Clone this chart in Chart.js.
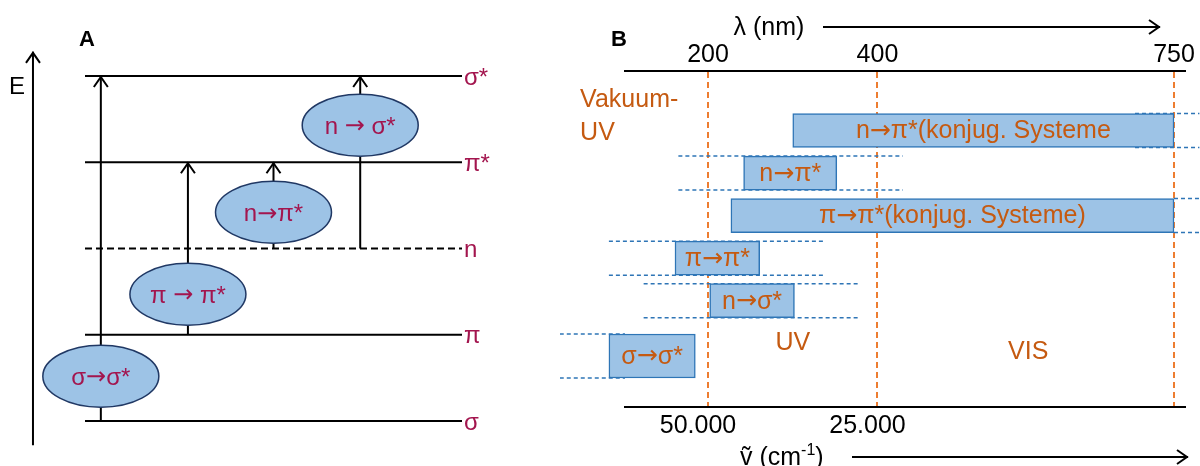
<!DOCTYPE html>
<html>
<head>
<meta charset="utf-8">
<script src="https://cdn.jsdelivr.net/npm/chart.js@4"></script>
<style>
  body { margin: 0; background: #fff; }
  #wrap { position: relative; width: 1200px; height: 466px; }
  canvas { position: absolute; top: 0; }
  #levels { left: 0; }
  #bands { left: 560px; }
</style>
</head>
<body>
<div id="wrap">
  <canvas id="levels" width="560" height="466"></canvas>
  <canvas id="bands" width="640" height="466"></canvas>
</div>
<script>
const FONT = '"Liberation Sans", Arial, sans-serif';
const ARROW_FONT = '"DejaVu Sans", sans-serif';
const RED = '#a3154e';
const ORANGE = '#c55a11';

// --- A: orbital energy levels ---
const levelNames = ['σ', 'π', 'n', 'π*', 'σ*'];
const levelEnergy = [0, 1, 2, 3, 4];

// transitions (x = % of level line length)
const transLabels = ['σ→σ*', 'π → π*', 'n→π*', 'n → σ*'];
const transFrom = [0, 1, 2, 2];
const transTo = [4, 3, 3, 4];
const transX = [4.2, 27.3, 50, 73];
const bubbleE = [0.52, 1.47, 2.42, 3.43];

// --- B: absorption ranges in nm ---
const lambdaTicks = [200, 400, 750];
const waveTicks = [200, 400];
const bandLabels = ['n→π*(konjug. Systeme', 'n→π*', 'π→π*(konjug. Systeme)', 'π→π*', 'n→σ*', 'σ→σ*'];
const bandStart = [300, 242, 227, 161, 202, 83];
const bandEnd = [750, 352, 750, 261, 302, 185];
const bandRow = [1, 2, 3, 4, 5, 6.3];
const spreadStart = [704, 165, 750, 83, 124, 25];
const spreadEnd = [780, 430, 780, 338, 379, 102];
const regionText = ['Vakuum-|UV', 'UV', 'VIS'];
const regionLambda = [49, 300, 578];
const regionRow = [0.28, 6.0, 6.2];

Chart.defaults.font.family = FONT;

function chevron(ctx, x, y, dir) {
  ctx.beginPath();
  if (dir === 'up') {
    ctx.moveTo(x - 7, y + 11); ctx.lineTo(x, y + 1); ctx.lineTo(x + 7, y + 11);
  } else {
    ctx.moveTo(x - 11, y - 7); ctx.lineTo(x - 1, y); ctx.lineTo(x - 11, y + 7);
  }
  ctx.stroke();
}

// text centred at cx, the arrow glyph taken from DejaVu (wider arrow)
function arrowText(ctx, text, cx, cy, size) {
  const parts = text.split('→');
  const pieces = [];
  parts.forEach((p, k) => {
    if (k > 0) pieces.push({t: '→', f: size + 'px ' + ARROW_FONT});
    if (p) pieces.push({t: p, f: size + 'px ' + FONT});
  });
  let w = 0;
  pieces.forEach(p => { ctx.font = p.f; p.w = ctx.measureText(p.t).width; w += p.w; });
  let x = cx - w / 2;
  ctx.textAlign = 'left';
  pieces.forEach(p => { ctx.font = p.f; ctx.fillText(p.t, x, cy); x += p.w; });
}

const seg = (x0, y0, x1, y1, extra) => Object.assign({
  data: [{x: x0, y: y0}, {x: x1, y: y1}],
  showLine: true, borderColor: '#000', borderWidth: 2,
  pointRadius: 0, clip: false
}, extra);

const levelSets = levelNames.map((n, i) =>
  seg(0, levelEnergy[i], 100, levelEnergy[i], {borderDash: n === 'n' ? [7, 4] : []}));
const arrowSets = transLabels.map((t, i) =>
  seg(transX[i], levelEnergy[transFrom[i]], transX[i], levelEnergy[transTo[i]], {arrow: true}));
const eAxis = seg(-13.8, -0.28, -13.8, 4.28, {arrow: true});

const levelDecor = {
  id: 'levelDecor',
  afterDatasetsDraw(chart) {
    const {ctx, chartArea, scales: {x, y}} = chart;
    ctx.save();
    ctx.strokeStyle = '#000';
    ctx.lineWidth = 2;
    chart.data.datasets.forEach((ds, i) => {
      if (!ds.arrow) return;
      const pts = chart.getDatasetMeta(i).data;
      const tip = pts[pts.length - 1];
      chevron(ctx, tip.x, tip.y, 'up');
    });

    ctx.textBaseline = 'middle';
    transLabels.forEach((t, i) => {
      const cx = x.getPixelForValue(transX[i]);
      const cy = y.getPixelForValue(bubbleE[i]);
      ctx.beginPath();
      ctx.ellipse(cx, cy, 58, 31, 0, 0, Math.PI * 2);
      ctx.fillStyle = '#9dc3e6';
      ctx.fill();
      ctx.strokeStyle = '#203864';
      ctx.lineWidth = 1.5;
      ctx.stroke();
      ctx.fillStyle = RED;
      arrowText(ctx, t, cx, cy + 2, 24);
    });

    ctx.textAlign = 'left';
    ctx.font = '24px ' + FONT;
    levelNames.forEach((n, i) => {
      ctx.fillText(n, chartArea.right + 2, y.getPixelForValue(levelEnergy[i]) + 2);
    });

    ctx.fillStyle = '#000';
    ctx.fillText('E', 9, 87);
    ctx.font = 'bold 22px ' + FONT;
    ctx.fillText('A', 79, 40);
    ctx.restore();
  }
};

new Chart(document.getElementById('levels'), {
  type: 'scatter',
  data: {datasets: [...levelSets, ...arrowSets, eAxis]},
  options: {
    responsive: false,
    animation: false,
    layout: {padding: {left: 85, right: 98, top: 76, bottom: 45}},
    scales: {
      x: {type: 'linear', min: 0, max: 100, display: false},
      y: {type: 'linear', min: 0, max: 4, display: false}
    },
    plugins: {legend: {display: false}, tooltip: {enabled: false}}
  },
  plugins: [levelDecor]
});

const deFormat = v => String(Math.round(v)).replace(/\B(?=(\d{3})+(?!\d))/g, '.');

const bandDecor = {
  id: 'bandDecor',
  beforeDatasetsDraw(chart) {
    const {ctx, scales: {x}} = chart;
    ctx.save();
    ctx.strokeStyle = '#2e75b6';
    ctx.lineWidth = 1.5;
    ctx.setLineDash([4, 3]);
    chart.data.datasets.forEach((ds, i) => {
      const el = chart.getDatasetMeta(i).data[0];
      const {y, height} = el.getProps(['y', 'height'], true);
      const x0 = x.getPixelForValue(spreadStart[i]);
      const x1 = x.getPixelForValue(spreadEnd[i]);
      [y - height / 2, y + height / 2].forEach(yy => {
        ctx.beginPath();
        ctx.moveTo(x0, yy);
        ctx.lineTo(x1, yy);
        ctx.stroke();
      });
    });
    ctx.restore();
  },
  afterDatasetsDraw(chart) {
    const {ctx, scales: {x, y}} = chart;
    ctx.save();
    ctx.fillStyle = ORANGE;
    ctx.textBaseline = 'middle';
    chart.data.datasets.forEach((ds, i) => {
      const el = chart.getDatasetMeta(i).data[0];
      const {x: xe, base, y: ye} = el.getProps(['x', 'base', 'y'], true);
      arrowText(ctx, bandLabels[i], (xe + base) / 2, ye + 1, 25);
    });

    ctx.font = '25px ' + FONT;
    regionText.forEach((t, i) => {
      const px = x.getPixelForValue(regionLambda[i]);
      const py = y.getPixelForValue(regionRow[i]);
      const lines = t.split('|');
      ctx.textAlign = lines.length > 1 ? 'left' : 'center';
      lines.forEach((l, k) => ctx.fillText(l, px, py + k * 33));
    });

    // axis titles with arrows
    ctx.fillStyle = '#000';
    ctx.strokeStyle = '#000';
    ctx.lineWidth = 2;
    ctx.textAlign = 'center';
    ctx.fillText('λ (nm)', 209, 28);
    ctx.beginPath(); ctx.moveTo(263, 27); ctx.lineTo(600, 27); ctx.stroke();
    chevron(ctx, 600, 27, 'right');

    ctx.textAlign = 'left';
    let tx = 180;
    ctx.fillText('ṽ (cm', tx, 458);
    tx += ctx.measureText('ṽ (cm').width;
    ctx.font = '16px ' + FONT;
    ctx.fillText('-1', tx, 451);
    tx += ctx.measureText('-1').width;
    ctx.font = '25px ' + FONT;
    ctx.fillText(')', tx, 458);
    ctx.beginPath(); ctx.moveTo(292, 457); ctx.lineTo(628, 457); ctx.stroke();
    chevron(ctx, 628, 457, 'right');

    ctx.font = 'bold 22px ' + FONT;
    ctx.fillText('B', 51, 40);
    ctx.restore();
  }
};

const bandSets = bandLabels.map((b, i) => ({
  data: [{x: [bandStart[i], bandEnd[i]], y: bandRow[i]}],
  backgroundColor: '#9dc3e6',
  borderColor: '#2e75b6',
  borderWidth: 1.5,
  borderSkipped: false,
  barThickness: i === bandLabels.length - 1 ? 44 : 34,
  grouped: false,
  clip: false
}));

new Chart(document.getElementById('bands'), {
  type: 'bar',
  data: {datasets: bandSets},
  options: {
    indexAxis: 'y',
    responsive: false,
    animation: false,
    layout: {padding: {left: 65, right: 15, top: 0, bottom: 0}},
    scales: {
      x: {
        type: 'linear', position: 'top', min: 102, max: 763,
        afterBuildTicks: s => { s.ticks = lambdaTicks.map(v => ({value: v})); },
        afterFit: s => { s.height = 71; },
        ticks: {autoSkip: false, maxRotation: 0, padding: 1, color: '#000', font: {size: 25}},
        grid: {color: '#ed7d31', lineWidth: 2, drawTicks: false},
        border: {color: '#000', width: 2, dash: [6, 4]}
      },
      x2: {
        type: 'linear', position: 'bottom', min: 102, max: 763,
        afterBuildTicks: s => { s.ticks = waveTicks.map(v => ({value: v})); },
        afterFit: s => { s.height = 59; },
        ticks: {
          autoSkip: false, maxRotation: 0, padding: 4, labelOffset: -10,
          color: '#000', font: {size: 25},
          callback: v => deFormat(1e7 / v)
        },
        grid: {display: false, drawTicks: false},
        border: {color: '#000', width: 2}
      },
      y: {type: 'linear', min: -0.4, max: 7.5, reverse: true, offset: false, display: false}
    },
    plugins: {legend: {display: false}, tooltip: {enabled: false}}
  },
  plugins: [bandDecor]
});
</script>
</body>
</html>
